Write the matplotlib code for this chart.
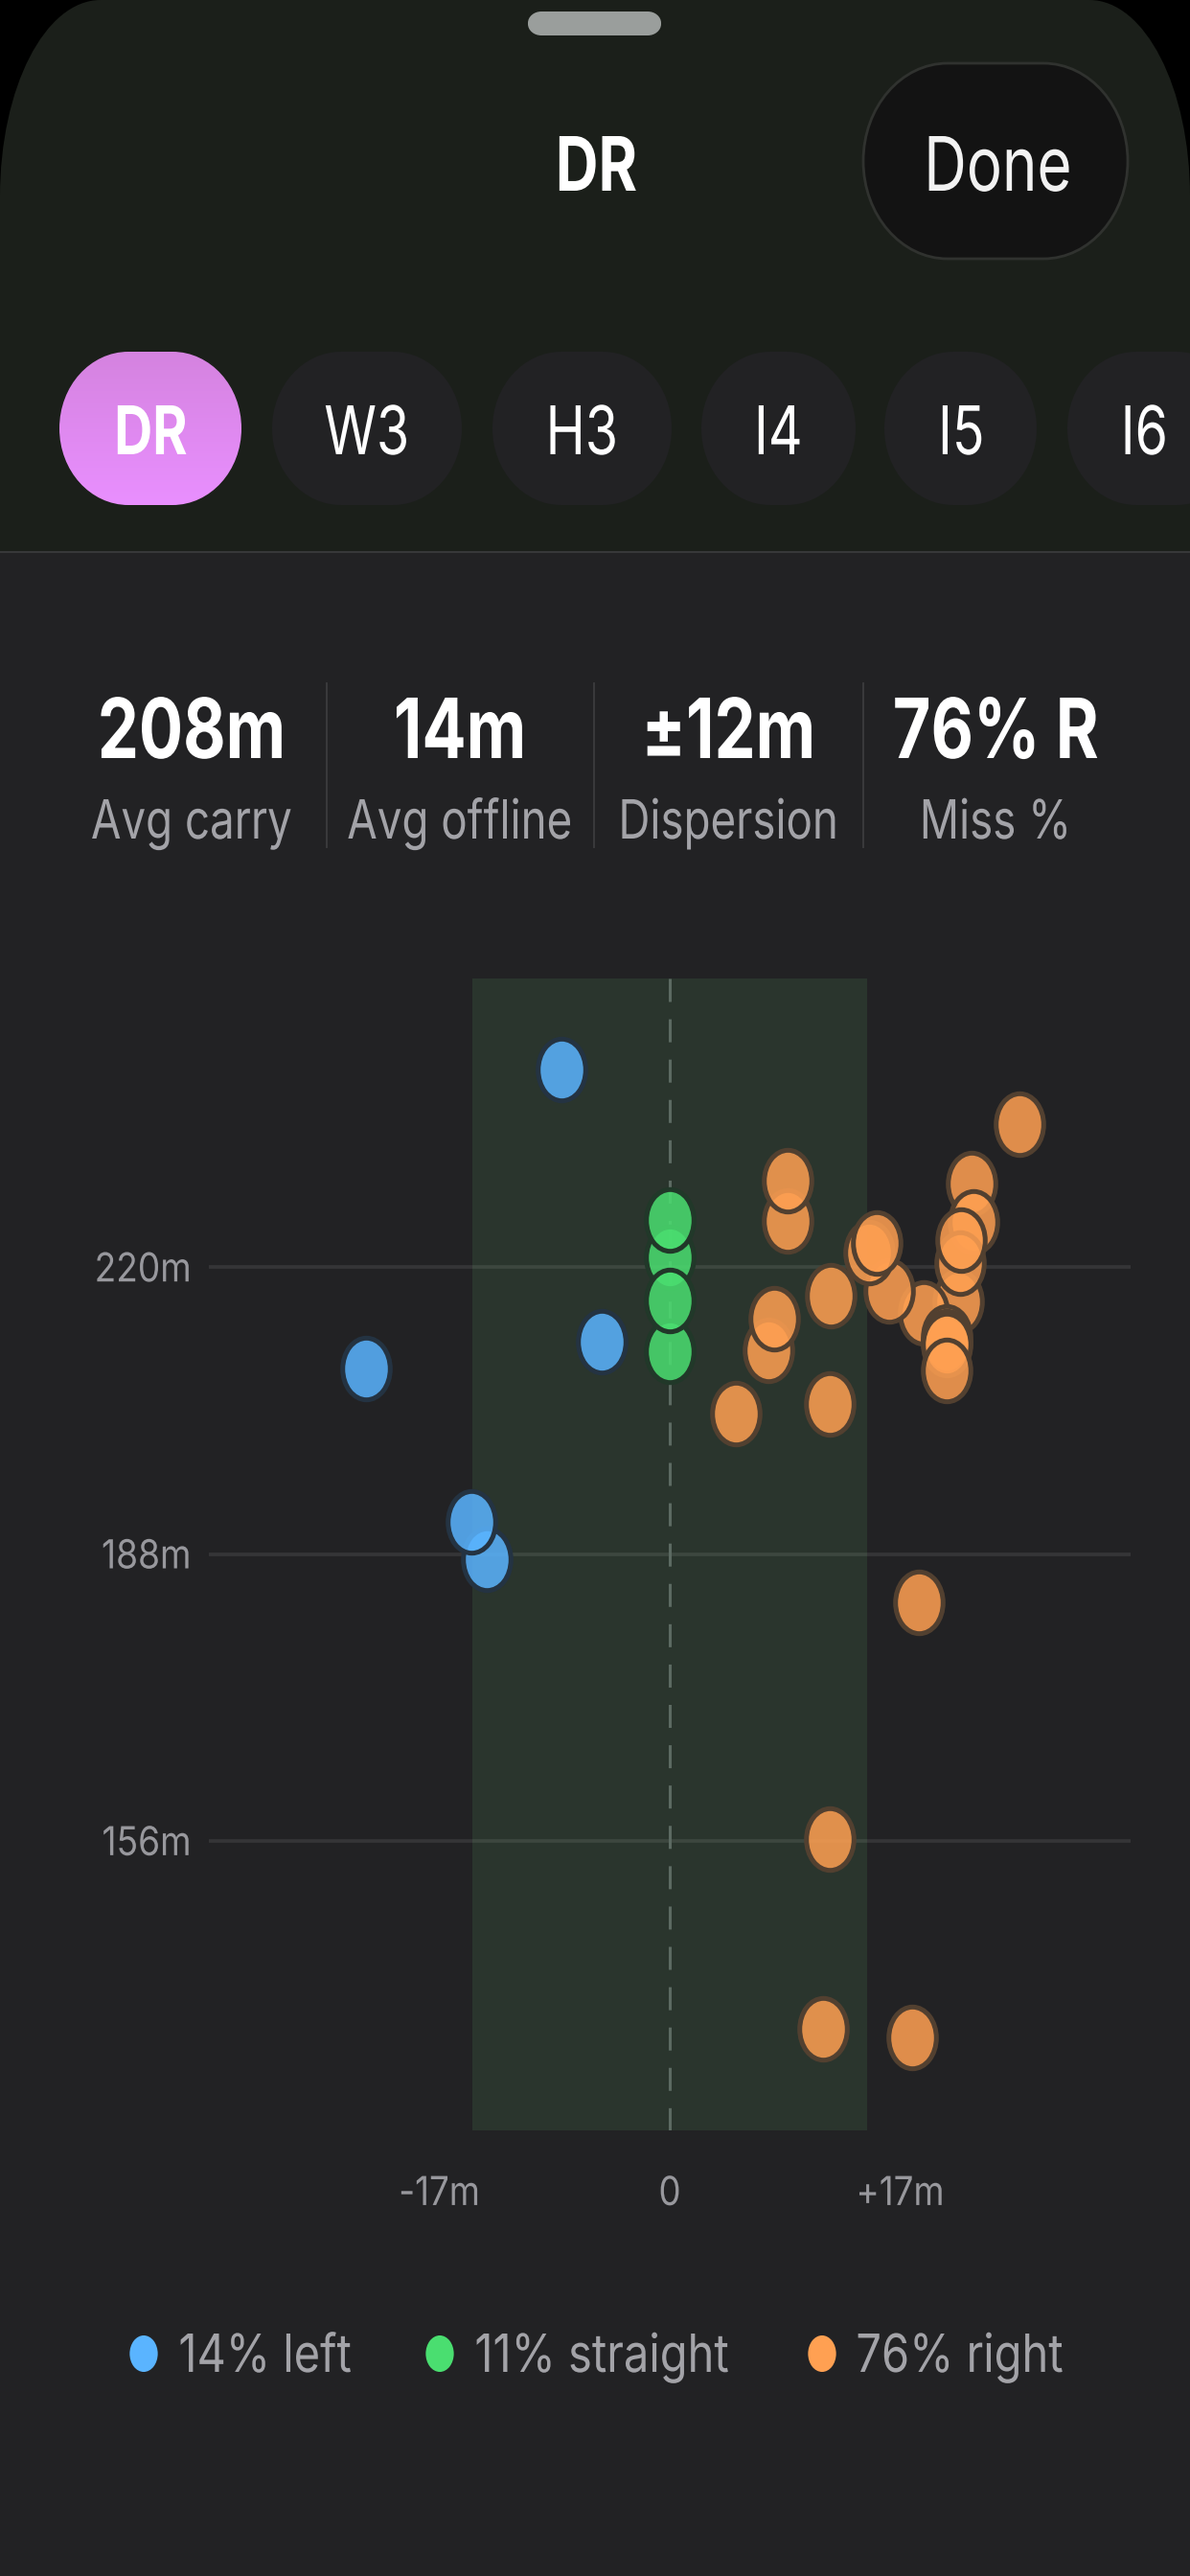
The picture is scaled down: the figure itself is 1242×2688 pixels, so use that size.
import numpy as np
import matplotlib
matplotlib.use("Agg")
import matplotlib.pyplot as plt
from matplotlib.path import Path
from matplotlib.patches import PathPatch
from matplotlib.patheffects import AbstractPathEffect
from matplotlib.transforms import Affine2D

plt.rcParams['font.family'] = ['Inter', 'Liberation Sans', 'DejaVu Sans']
plt.rcParams['lines.scale_dashes'] = False

# ---- data ----
left_x = [-8.0, -5.0, -22.4, -13.5, -14.6]
left_y = [242.0, 211.7, 208.7, 187.4, 191.6]
straight_x = [0, 0, 0, 0]
straight_y = [210.6, 221.1, 216.3, 225.3]
right_x = [25.8, 8.7, 8.7, 22.3, 22.4, 21.3, 21.4, 21.5, 18.7, 16.2, 14.7, 15.3,
           11.9, 7.3, 7.7, 4.9, 11.8, 20.4, 20.4, 20.4, 20.4, 18.4, 11.8, 11.3, 17.9]
right_y = [236.0, 225.2, 229.6, 229.3, 225.0, 216.2, 220.5, 223.0, 214.9, 217.3, 221.6, 222.7,
           216.8, 210.7, 214.3, 203.7, 204.7, 212.2, 211.7, 211.4, 208.5, 182.6, 156.2, 135.0, 134.1]
y_ticks = [220, 188, 156]
y_tick_labels = ['220m', '188m', '156m']
x_ticks = [-17, 0, 17]
x_tick_labels = ['-17m', '0', '+17m']
band_half = 14.56
chips = ['DR', 'W3', 'H3', 'I4', 'I5', 'I6']
stat_values = ['208m', '14m', '±12m', '76% R']
stat_labels = ['Avg carry', 'Avg offline', 'Dispersion', 'Miss %']
legend_labels = ['14% left', '11% straight', '76% right']

BG = '#222224'
SHEET = '#1b1f1a'
BLUE = '#5AB4FF'
GREEN = '#4ADE70'
ORANGE = '#FFA052'

W, H = 1242, 2688
fig = plt.figure(figsize=(W / 100, H / 100), dpi=100, facecolor='#000000')


class Squeeze(AbstractPathEffect):
    """Draw text narrower about a pivot: the reference text is tall and narrow."""

    def __init__(self, sx=0.79, anchor=0.5):
        super().__init__()
        self.sx, self.anchor = sx, anchor

    def draw_path(self, renderer, gc, tpath, affine, rgbFace=None):
        e = tpath.get_extents()
        pivot = e.x0 + self.anchor * (e.x1 - e.x0)
        t = Affine2D().translate(-pivot, 0).scale(self.sx, 1).translate(pivot, 0)
        renderer.draw_path(gc, tpath, t + affine, rgbFace)


CENTER = [Squeeze(0.79, 0.5)]
SUB = [Squeeze(0.81, 0.5)]
TICK_X = [Squeeze(0.88, 0.5)]
TICK_Y = [Squeeze(0.89, 1.0)]
LEG = [Squeeze(0.855, 0.0)]


def pill(x0, y0, x1, y1, rx, ry):
    k = 0.5523
    v = [(x0 + rx, y0), (x1 - rx, y0),
         (x1 - rx + k * rx, y0), (x1, y0 + ry - k * ry), (x1, y0 + ry),
         (x1, y1 - ry),
         (x1, y1 - ry + k * ry), (x1 - rx + k * rx, y1), (x1 - rx, y1),
         (x0 + rx, y1),
         (x0 + rx - k * rx, y1), (x0, y1 - ry + k * ry), (x0, y1 - ry),
         (x0, y0 + ry),
         (x0, y0 + ry - k * ry), (x0 + rx - k * rx, y0), (x0 + rx, y0), (x0 + rx, y0)]
    c = [Path.MOVETO, Path.LINETO, Path.CURVE4, Path.CURVE4, Path.CURVE4, Path.LINETO,
         Path.CURVE4, Path.CURVE4, Path.CURVE4, Path.LINETO,
         Path.CURVE4, Path.CURVE4, Path.CURVE4, Path.LINETO,
         Path.CURVE4, Path.CURVE4, Path.CURVE4, Path.CLOSEPOLY]
    return Path(v, c)


# ---- page chrome, in pixel coordinates ----
bg = fig.add_axes([0, 0, 1, 1], zorder=0)
bg.set_xlim(0, W)
bg.set_ylim(H, 0)
bg.axis('off')

bg.add_patch(PathPatch(pill(0, 0, W, H + 400, 105, 205), fc=SHEET, ec='none'))
bg.fill_between([0, W], 577, H, color=BG, lw=0)
bg.plot([0, W], [576, 576], color='#38393a', lw=1.4)
bg.add_patch(PathPatch(pill(551, 12, 690, 37, 14, 12), fc='#9a9e9c', ec='none'))
bg.add_patch(PathPatch(pill(901, 66, 1177, 270, 88, 102), fc='#131313', ec='#30322f', lw=2))
bg.text(622, 199, 'DR', color='white', fontsize=56.4, fontweight='bold', ha='center', va='baseline',
        path_effects=CENTER)
bg.text(1041, 199, 'Done', color='#f2f2f2', fontsize=56.4, ha='center', va='baseline', path_effects=CENTER)

chip_edges = [(62, 252), (284, 482), (514, 701), (732, 893), (923, 1082), (1114, 1300)]
chip_centers = [157, 383, 607, 812, 1003, 1194]
for i, (name, (a, b), c) in enumerate(zip(chips, chip_edges, chip_centers)):
    p = PathPatch(pill(a, 367, b, 527, 72, 80), fc='#222224' if i else 'none', ec='none')
    bg.add_patch(p)
    if i == 0:
        grad = np.linspace(0, 1, 64)[:, None, None] * (np.array([233, 143, 255]) - np.array([213, 131, 224])) + np.array([213, 131, 224])
        im = bg.imshow(grad.astype(np.uint8), extent=(a, b, 527, 367), aspect='auto', zorder=1.5)
        im.set_clip_path(p)
    bg.text(c, 474, name, color='white', fontsize=50.5, fontweight='bold' if i == 0 else 'normal',
            ha='center', va='baseline', zorder=3, path_effects=CENTER)
bg.set_xlim(0, W)
bg.set_ylim(H, 0)

stat_centers = [200, 480, 760, 1039]
for c, v, l in zip(stat_centers, stat_values, stat_labels):
    bg.text(c, 791, v, color='white', fontsize=62.4, fontweight='bold', ha='center', va='baseline',
            path_effects=CENTER)
    bg.text(c, 875, l, color='#a3a3a8', fontsize=40.6, ha='center', va='baseline', path_effects=SUB)
for x in [341, 620, 901]:
    bg.plot([x, x], [713, 884], color='#3a3a3c', lw=1.4)

# ---- chart ----
ax = fig.add_axes([218 / W, 1 - 2223 / H, (1180 - 218) / W, (2223 - 1021) / H], zorder=2)
ax.patch.set_alpha(0)
ax.set_xlim(-34, 34)
ax.set_ylim(123.7, 252.2)
for s in ax.spines.values():
    s.set_visible(False)
ax.axvspan(-band_half, band_half, color='#2a352d', lw=0, zorder=1)
for t in y_ticks:
    ax.axhline(t, color='white', alpha=0.09, lw=2.6, zorder=2)
ax.plot([0, 0], [252.2, 123.7], color='#5c6a62', lw=2.2, ls=(0, (17.3, 13)), zorder=2)

oval = Path.unit_circle().transformed(Affine2D().scale(0.77, 1))


def shots(xs, ys, color, edge, z):
    for x, y in zip(xs, ys):
        ax.scatter([x], [y], s=2150, marker=oval, facecolor=matplotlib.colors.to_rgba(color, 0.86),
                   edgecolor=edge, linewidth=3.6, zorder=z, clip_on=False)
        z += 0.01


shots(left_x, left_y, BLUE, (0.14, 0.20, 0.26, 1.0), 3)
shots(straight_x, straight_y, GREEN, (0.13, 0.22, 0.16, 1.0), 4)
shots(right_x, right_y, ORANGE, (0.32, 0.25, 0.19, 1.0), 5)

ax.set_xticks(x_ticks, x_tick_labels)
ax.set_yticks(y_ticks, y_tick_labels)
ax.tick_params(axis='both', length=0, colors='#98989d')
ax.tick_params(axis='x', labelsize=30, pad=34.5)
ax.tick_params(axis='y', labelsize=30, pad=13)
for lab in ax.get_xticklabels():
    lab.set_path_effects(TICK_X)
for lab in ax.get_yticklabels():
    lab.set_path_effects(TICK_Y)

# ---- legend, in pixel coordinates ----
leg = fig.add_axes([0, 0, 1, 1], zorder=3)
leg.set_xlim(0, W)
leg.set_ylim(H, 0)
leg.axis('off')
for lx, tx, col, lab in zip([150, 459, 858], [186, 495, 893], [BLUE, GREEN, ORANGE], legend_labels):
    leg.scatter([lx], [2456], s=27.4 ** 2, marker=oval, facecolor=col, edgecolor='none')
    leg.text(tx, 2475, lab, color='#a3a3a8', fontsize=39.6, ha='left', va='baseline', path_effects=LEG)
leg.set_xlim(0, W)
leg.set_ylim(H, 0)

fig.savefig('out.png', dpi=100, facecolor=fig.get_facecolor())
